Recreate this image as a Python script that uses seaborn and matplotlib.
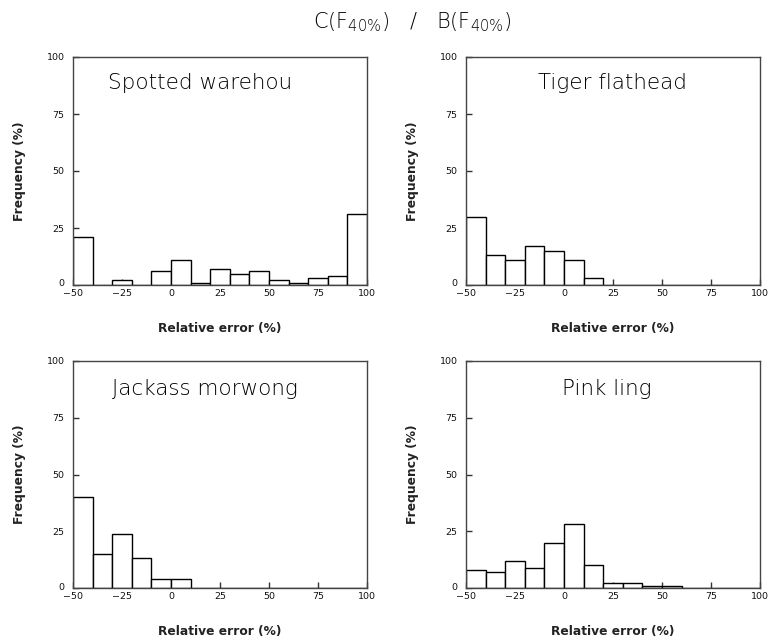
import numpy as np
import matplotlib
matplotlib.use("Agg")
import matplotlib.pyplot as plt
import matplotlib.transforms as mtransforms
import seaborn as sns

sns.set_theme(style="white")
plt.rcParams['font.family'] = ['DejaVu Sans']
# subscripts in the heading use the same thin face as the rest of it
plt.rcParams['mathtext.fontset'] = 'custom'
plt.rcParams['mathtext.rm'] = 'DejaVu Sans:light'
plt.rcParams['mathtext.it'] = 'DejaVu Sans:light'
plt.rcParams['mathtext.bf'] = 'DejaVu Sans:light'
plt.rcParams['mathtext.default'] = 'rm'

# Relative error bins (%), 10-unit wide from -50 to 100
bin_edges = [-50, -40, -30, -20, -10, 0, 10, 20, 30, 40, 50, 60, 70, 80, 90, 100]
bin_centres = [-45, -35, -25, -15, -5, 5, 15, 25, 35, 45, 55, 65, 75, 85, 95]

species = ["Spotted warehou", "Tiger flathead", "Jackass morwong", "Pink ling"]

# Frequency (%) per bin for each species
spotted_warehou = [21, 0, 2, 0, 6, 11, 1, 7, 5, 6, 2, 1, 3, 4, 31]
tiger_flathead = [30, 13, 11, 17, 15, 11, 3, 0, 0, 0, 0, 0, 0, 0, 0]
jackass_morwong = [40, 15, 24, 13, 4, 4, 0, 0, 0, 0, 0, 0, 0, 0, 0]
pink_ling = [8, 7, 12, 9, 20, 28, 10, 2, 2, 1, 1, 0, 0, 0, 0]

frequencies = [spotted_warehou, tiger_flathead, jackass_morwong, pink_ling]

x_ticks = [-50, -25, 0, 25, 50, 75, 100]
y_ticks = [0, 25, 50, 75, 100]

title_x = [0.432, 0.497, 0.449, 0.480]
title_y = [0.888, 0.888, 0.877, 0.877]

W, H = 770, 641
fig = plt.figure(figsize=(W / 100, H / 100), dpi=100)

# axes boxes in pixels: (left, top, right, bottom)
boxes = [(73, 57, 367, 285), (466, 57, 760, 285),
         (73, 361, 367, 588), (466, 361, 760, 588)]

for i, (name, freq) in enumerate(zip(species, frequencies)):
    l, t, r, b = boxes[i]
    ax = fig.add_axes([l / W, 1 - b / H, (r - l) / W, (b - t) / H])
    sns.histplot(x=bin_centres, weights=freq, bins=bin_edges, ax=ax,
                 color="white", edgecolor="black", linewidth=1.0, alpha=1.0)
    ax.set_xlim(-50, 100)
    ax.set_ylim(0, 100)
    ax.set_xticks(x_ticks)
    ax.set_yticks(y_ticks)
    ax.tick_params(direction="in", length=4, width=1, color="#333333",
                   labelsize=6.8, labelcolor="#111111",
                   bottom=True, left=True, top=False, right=False)
    ax.tick_params(axis="y", pad=6)
    ax.tick_params(axis="x", pad=3)
    # lift the zero label on the y axis a little clear of the x labels
    zero_lab = ax.get_yticklabels()[0]
    zero_lab.set_transform(zero_lab.get_transform() +
                           mtransforms.ScaledTranslation(0, 2 / 100, fig.dpi_scale_trans))
    for s in ax.spines.values():
        s.set_color("#444444")
        s.set_linewidth(1.0)
    ax.set_xlabel("Relative error (%)", fontsize=8.8, fontweight="bold",
                  labelpad=17, color="#222222")
    ax.set_ylabel("Frequency (%)", fontsize=8.8, fontweight="bold",
                  labelpad=15, color="#222222")
    ax.text(title_x[i], title_y[i], name, transform=ax.transAxes,
            ha="center", va="center", fontsize=15.5, fontweight="light",
            color="black")

fig.text(412 / W, 1 - 22 / H, r"C(F$_{40\%}$)   /   B(F$_{40\%}$)",
         ha="center", va="center", fontsize=15, fontweight="light",
         color="black")

fig.savefig("out.png", dpi=100, facecolor="white")
